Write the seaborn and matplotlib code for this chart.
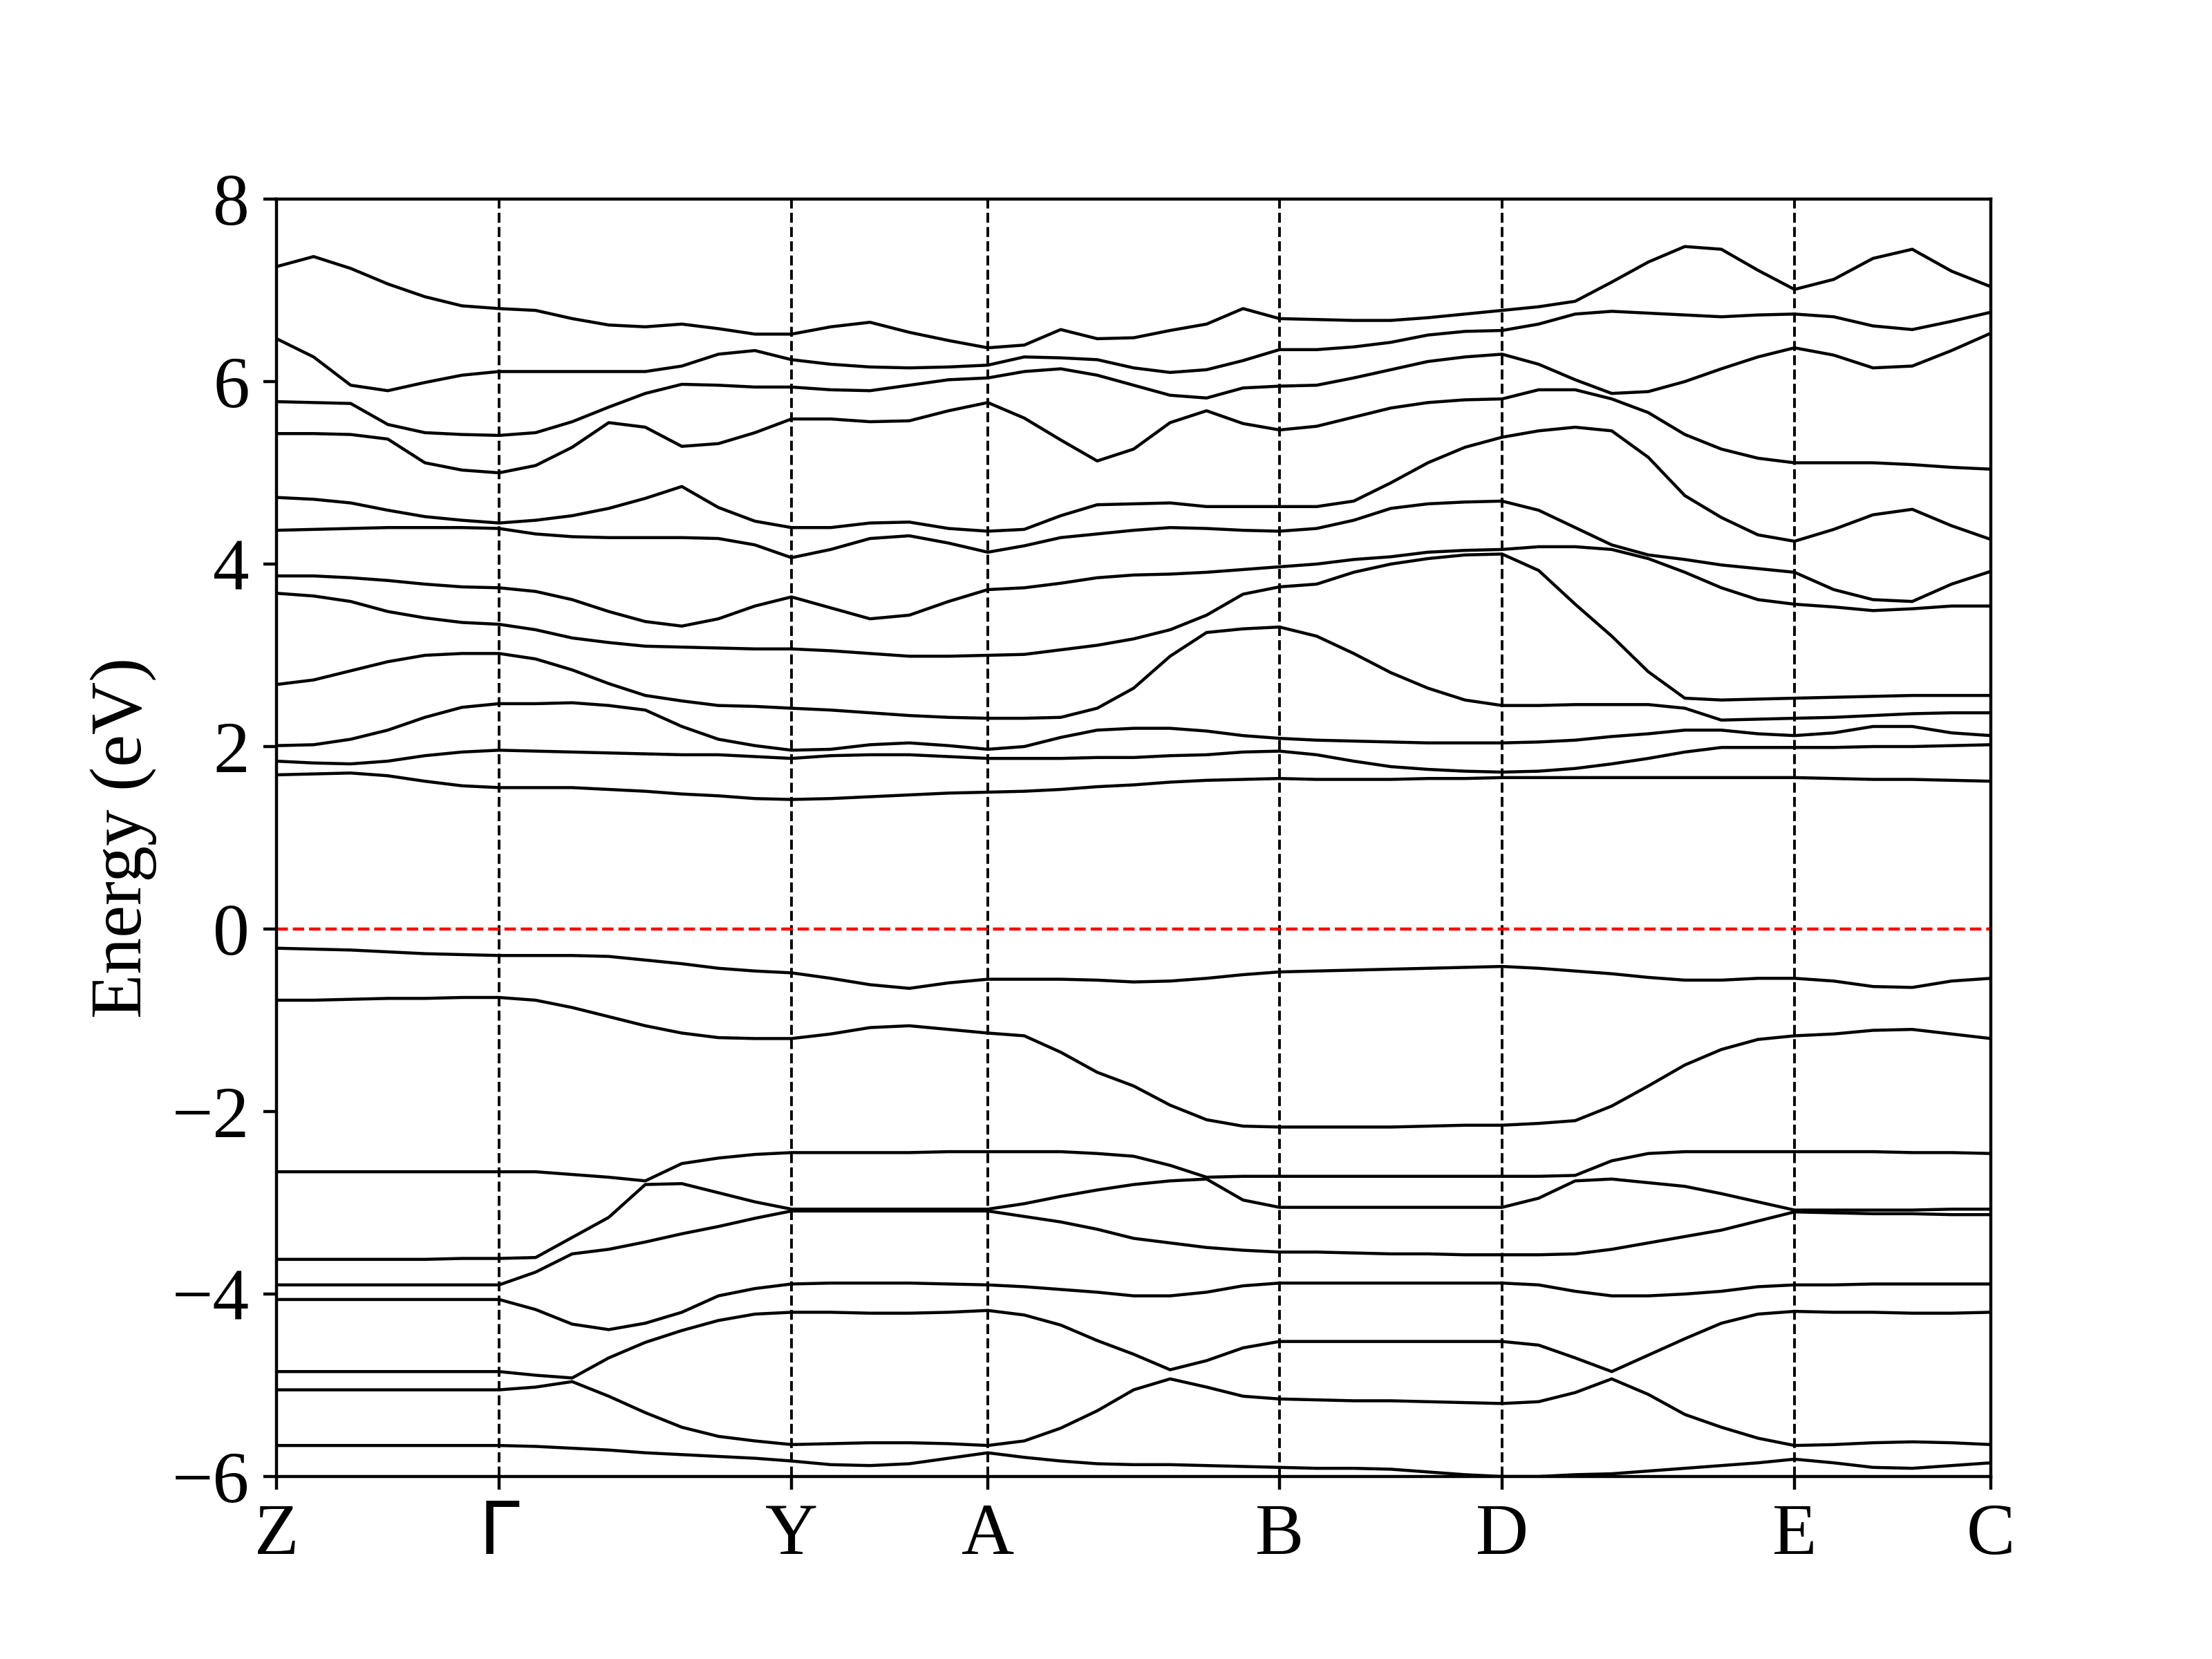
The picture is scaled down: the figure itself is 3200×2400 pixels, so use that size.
import numpy as np
import pandas as pd
import matplotlib
matplotlib.use('Agg')
import matplotlib.pyplot as plt
import seaborn as sns

# 高对称点路径
labels = ['Z', r'$\Gamma$', 'Y', 'A', 'B', 'D', 'E', 'C']
nodes = [0.0, 0.322, 0.745, 1.029, 1.451, 1.773, 2.196, 2.480]
nsub = [6, 8, 5, 8, 6, 8, 5]

# 导带 (从低到高)
cb1 = [1.69, 1.70, 1.71, 1.68, 1.62, 1.57, 1.55,
       1.55, 1.55, 1.53, 1.51, 1.48, 1.46, 1.43, 1.42,
       1.43, 1.45, 1.47, 1.49, 1.50,
       1.51, 1.53, 1.56, 1.58, 1.61, 1.63, 1.64, 1.65,
       1.64, 1.64, 1.64, 1.65, 1.65, 1.66,
       1.66, 1.66, 1.66, 1.66, 1.66, 1.66, 1.66, 1.66,
       1.65, 1.64, 1.64, 1.63, 1.62]
cb2 = [1.84, 1.82, 1.81, 1.84, 1.90, 1.94, 1.96,
       1.95, 1.94, 1.93, 1.92, 1.91, 1.91, 1.89, 1.87,
       1.90, 1.91, 1.91, 1.89, 1.87,
       1.87, 1.87, 1.88, 1.88, 1.90, 1.91, 1.94, 1.95,
       1.91, 1.84, 1.78, 1.75, 1.73, 1.72,
       1.73, 1.76, 1.81, 1.87, 1.94, 1.99, 1.99, 1.99,
       1.99, 2.00, 2.00, 2.01, 2.02]
cb3 = [2.01, 2.02, 2.08, 2.18, 2.32, 2.43, 2.47,
       2.47, 2.48, 2.45, 2.40, 2.22, 2.08, 2.01, 1.96,
       1.97, 2.02, 2.04, 2.01, 1.97,
       2.00, 2.10, 2.18, 2.20, 2.20, 2.17, 2.12, 2.09,
       2.07, 2.06, 2.05, 2.04, 2.04, 2.04,
       2.05, 2.07, 2.11, 2.14, 2.18, 2.18, 2.14, 2.12,
       2.15, 2.22, 2.22, 2.15, 2.12]
cb4 = [2.68, 2.73, 2.83, 2.93, 3.00, 3.02, 3.02,
       2.96, 2.84, 2.69, 2.56, 2.50, 2.45, 2.44, 2.42,
       2.40, 2.37, 2.34, 2.32, 2.31,
       2.31, 2.32, 2.42, 2.64, 2.99, 3.25, 3.29, 3.31,
       3.21, 3.02, 2.81, 2.64, 2.51, 2.45,
       2.45, 2.46, 2.46, 2.46, 2.42, 2.29, 2.30, 2.31,
       2.32, 2.34, 2.36, 2.37, 2.37]
cb5 = [3.68, 3.65, 3.59, 3.48, 3.41, 3.36, 3.34,
       3.28, 3.19, 3.14, 3.10, 3.09, 3.08, 3.07, 3.07,
       3.05, 3.02, 2.99, 2.99, 3.00,
       3.01, 3.06, 3.11, 3.18, 3.28, 3.44, 3.67, 3.75,
       3.78, 3.91, 4.00, 4.06, 4.10, 4.11,
       3.93, 3.56, 3.21, 2.82, 2.53, 2.51, 2.52, 2.53,
       2.54, 2.55, 2.56, 2.56, 2.56]
cb6 = [3.87, 3.87, 3.85, 3.82, 3.78, 3.75, 3.74,
       3.70, 3.61, 3.48, 3.37, 3.32, 3.40, 3.54, 3.64,
       3.52, 3.40, 3.44, 3.59, 3.72,
       3.74, 3.79, 3.85, 3.88, 3.89, 3.91, 3.94, 3.97,
       4.00, 4.05, 4.08, 4.13, 4.15, 4.16,
       4.19, 4.19, 4.16, 4.06, 3.91, 3.74, 3.61, 3.56,
       3.53, 3.49, 3.51, 3.54, 3.54]
cb7 = [4.37, 4.38, 4.39, 4.40, 4.40, 4.40, 4.39,
       4.33, 4.30, 4.29, 4.29, 4.29, 4.28, 4.21, 4.07,
       4.16, 4.28, 4.31, 4.23, 4.13,
       4.20, 4.29, 4.33, 4.37, 4.40, 4.39, 4.37, 4.36,
       4.39, 4.48, 4.61, 4.66, 4.68, 4.69,
       4.59, 4.40, 4.21, 4.10, 4.05, 3.99, 3.95, 3.91,
       3.72, 3.61, 3.59, 3.78, 3.92]
cb8 = [4.73, 4.71, 4.67, 4.59, 4.52, 4.48, 4.45,
       4.48, 4.53, 4.61, 4.72, 4.85, 4.62, 4.47, 4.40,
       4.40, 4.45, 4.46, 4.39, 4.36,
       4.38, 4.53, 4.65, 4.66, 4.67, 4.63, 4.63, 4.63,
       4.63, 4.69, 4.89, 5.11, 5.28, 5.39,
       5.46, 5.50, 5.46, 5.17, 4.75, 4.51, 4.32, 4.25,
       4.38, 4.54, 4.60, 4.42, 4.27]
cb9 = [5.43, 5.43, 5.42, 5.37, 5.11, 5.03, 5.00,
       5.08, 5.28, 5.55, 5.50, 5.29, 5.32, 5.44, 5.59,
       5.59, 5.56, 5.57, 5.68, 5.77,
       5.60, 5.36, 5.13, 5.26, 5.55, 5.68, 5.54, 5.47,
       5.51, 5.61, 5.71, 5.77, 5.80, 5.81,
       5.91, 5.91, 5.81, 5.66, 5.42, 5.26, 5.16, 5.11,
       5.11, 5.11, 5.09, 5.06, 5.04]
cb10 = [5.78, 5.77, 5.76, 5.53, 5.44, 5.42, 5.41,
        5.44, 5.56, 5.72, 5.87, 5.97, 5.96, 5.94, 5.94,
        5.91, 5.90, 5.96, 6.02, 6.04,
        6.11, 6.14, 6.07, 5.96, 5.85, 5.82, 5.93, 5.95,
        5.96, 6.04, 6.13, 6.22, 6.27, 6.30,
        6.19, 6.02, 5.87, 5.89, 6.00, 6.14, 6.27, 6.37,
        6.29, 6.15, 6.17, 6.34, 6.53]
cb11 = [6.47, 6.27, 5.96, 5.90, 5.99, 6.07, 6.11,
        6.11, 6.11, 6.11, 6.11, 6.17, 6.30, 6.34, 6.24,
        6.19, 6.16, 6.15, 6.16, 6.18,
        6.27, 6.26, 6.24, 6.15, 6.10, 6.13, 6.23, 6.35,
        6.35, 6.38, 6.43, 6.51, 6.55, 6.56,
        6.63, 6.74, 6.77, 6.75, 6.73, 6.71, 6.73, 6.74,
        6.71, 6.61, 6.57, 6.66, 6.76]
cb12 = [7.26, 7.37, 7.24, 7.07, 6.93, 6.83, 6.80,
        6.78, 6.69, 6.62, 6.60, 6.63, 6.58, 6.52, 6.52,
        6.60, 6.65, 6.54, 6.45, 6.37,
        6.40, 6.57, 6.47, 6.48, 6.56, 6.63, 6.80, 6.69,
        6.68, 6.67, 6.67, 6.70, 6.74, 6.78,
        6.82, 6.88, 7.09, 7.31, 7.48, 7.45, 7.22, 7.01,
        7.12, 7.35, 7.45, 7.21, 7.04]

# 价带 (从高到低)
vb1 = [-0.21, -0.22, -0.23, -0.25, -0.27, -0.28, -0.29,
       -0.29, -0.29, -0.30, -0.34, -0.38, -0.43, -0.46, -0.48,
       -0.54, -0.61, -0.65, -0.59, -0.55,
       -0.55, -0.55, -0.56, -0.58, -0.57, -0.54, -0.50, -0.47,
       -0.46, -0.45, -0.44, -0.43, -0.42, -0.41,
       -0.43, -0.46, -0.49, -0.53, -0.56, -0.56, -0.54, -0.54,
       -0.57, -0.63, -0.64, -0.57, -0.54]
vb2 = [-0.78, -0.78, -0.77, -0.76, -0.76, -0.75, -0.75,
       -0.78, -0.86, -0.96, -1.06, -1.14, -1.19, -1.20, -1.20,
       -1.15, -1.08, -1.06, -1.10, -1.14,
       -1.17, -1.35, -1.57, -1.72, -1.93, -2.09, -2.16, -2.17,
       -2.17, -2.17, -2.17, -2.16, -2.15, -2.15,
       -2.13, -2.10, -1.94, -1.72, -1.49, -1.32, -1.21, -1.17,
       -1.15, -1.11, -1.10, -1.15, -1.20]
vb3 = [-2.66, -2.66, -2.66, -2.66, -2.66, -2.66, -2.66,
       -2.66, -2.69, -2.72, -2.76, -2.57, -2.51, -2.47, -2.45,
       -2.45, -2.45, -2.45, -2.44, -2.44,
       -2.44, -2.44, -2.46, -2.49, -2.59, -2.72, -2.71, -2.71,
       -2.71, -2.71, -2.71, -2.71, -2.71, -2.71,
       -2.71, -2.70, -2.54, -2.46, -2.44, -2.44, -2.44, -2.44,
       -2.44, -2.44, -2.45, -2.45, -2.46]
vb4 = [-3.62, -3.62, -3.62, -3.62, -3.62, -3.61, -3.61,
       -3.60, -3.38, -3.16, -2.80, -2.79, -2.89, -2.99, -3.07,
       -3.07, -3.07, -3.07, -3.07, -3.07,
       -3.01, -2.93, -2.86, -2.80, -2.76, -2.74, -2.97, -3.05,
       -3.05, -3.05, -3.05, -3.05, -3.05, -3.05,
       -2.95, -2.76, -2.74, -2.78, -2.82, -2.90, -2.99, -3.08,
       -3.08, -3.08, -3.08, -3.07, -3.07]
vb5 = [-3.90, -3.90, -3.90, -3.90, -3.90, -3.90, -3.90,
       -3.76, -3.56, -3.51, -3.43, -3.34, -3.26, -3.17, -3.09,
       -3.09, -3.09, -3.09, -3.09, -3.09,
       -3.15, -3.21, -3.29, -3.39, -3.44, -3.49, -3.52, -3.54,
       -3.54, -3.55, -3.56, -3.56, -3.57, -3.57,
       -3.57, -3.56, -3.51, -3.44, -3.37, -3.30, -3.20, -3.10,
       -3.11, -3.12, -3.12, -3.13, -3.13]
vb6 = [-4.06, -4.06, -4.06, -4.06, -4.06, -4.06, -4.06,
       -4.17, -4.33, -4.39, -4.32, -4.20, -4.02, -3.94, -3.89,
       -3.88, -3.88, -3.88, -3.89, -3.90,
       -3.92, -3.95, -3.98, -4.02, -4.02, -3.98, -3.91, -3.88,
       -3.88, -3.88, -3.88, -3.88, -3.88, -3.88,
       -3.90, -3.97, -4.02, -4.02, -4.00, -3.97, -3.92, -3.90,
       -3.90, -3.89, -3.89, -3.89, -3.89]
vb7 = [-4.85, -4.85, -4.85, -4.85, -4.85, -4.85, -4.85,
       -4.89, -4.92, -4.70, -4.53, -4.40, -4.29, -4.22, -4.20,
       -4.20, -4.21, -4.21, -4.20, -4.18,
       -4.23, -4.34, -4.51, -4.66, -4.83, -4.73, -4.59, -4.52,
       -4.52, -4.52, -4.52, -4.52, -4.52, -4.52,
       -4.56, -4.70, -4.85, -4.67, -4.49, -4.32, -4.22, -4.19,
       -4.20, -4.20, -4.21, -4.21, -4.20]
vb8 = [-5.05, -5.05, -5.05, -5.05, -5.05, -5.05, -5.05,
       -5.02, -4.96, -5.12, -5.30, -5.46, -5.56, -5.61, -5.65,
       -5.64, -5.63, -5.63, -5.64, -5.66,
       -5.61, -5.47, -5.28, -5.05, -4.93, -5.02, -5.12, -5.15,
       -5.16, -5.17, -5.17, -5.18, -5.19, -5.20,
       -5.18, -5.08, -4.93, -5.10, -5.32, -5.46, -5.58, -5.66,
       -5.65, -5.63, -5.62, -5.63, -5.65]
vb9 = [-5.66, -5.66, -5.66, -5.66, -5.66, -5.66, -5.66,
       -5.67, -5.69, -5.71, -5.74, -5.76, -5.78, -5.80, -5.83,
       -5.87, -5.88, -5.86, -5.80, -5.74,
       -5.79, -5.83, -5.86, -5.87, -5.87, -5.88, -5.89, -5.90,
       -5.91, -5.91, -5.92, -5.95, -5.98, -6.00,
       -6.00, -5.98, -5.97, -5.94, -5.91, -5.88, -5.85, -5.81,
       -5.85, -5.90, -5.91, -5.88, -5.85]

bands = [vb9, vb8, vb7, vb6, vb5, vb4, vb3, vb2, vb1,
         cb1, cb2, cb3, cb4, cb5, cb6, cb7, cb8, cb9, cb10, cb11, cb12]

# k点坐标
kpath = [nodes[0]]
for i, n in enumerate(nsub):
    kpath.extend(np.linspace(nodes[i], nodes[i + 1], n + 1)[1:])
kpath = np.array(kpath)

rows = []
for b, e in enumerate(bands):
    for kk, ee in zip(kpath, e):
        rows.append((b, kk, ee))
df = pd.DataFrame(rows, columns=['band', 'k', 'E'])

plt.rcParams['font.family'] = ['Liberation Serif', 'DejaVu Sans']
plt.rcParams['mathtext.fontset'] = 'dejavusans'
plt.rcParams['font.size'] = 19

fig, ax = plt.subplots(figsize=(8, 6))

sns.lineplot(data=df, x='k', y='E', units='band', estimator=None,
             color='black', linewidth=0.8, legend=False, ax=ax)

for x in nodes[1:-1]:
    ax.axvline(x, color='black', linestyle='--', linewidth=0.7)
ax.axhline(0, color='red', linestyle='--', linewidth=0.8)

ax.set_xlim(nodes[0], nodes[-1])
ax.set_ylim(-6, 8)
ax.set_xticks(nodes)
ax.set_xticklabels(labels)
ax.set_yticks(range(-6, 9, 2))
ax.set_xlabel('')
ax.set_ylabel('Energy (eV)')

fig.savefig('out.png', dpi=400)
